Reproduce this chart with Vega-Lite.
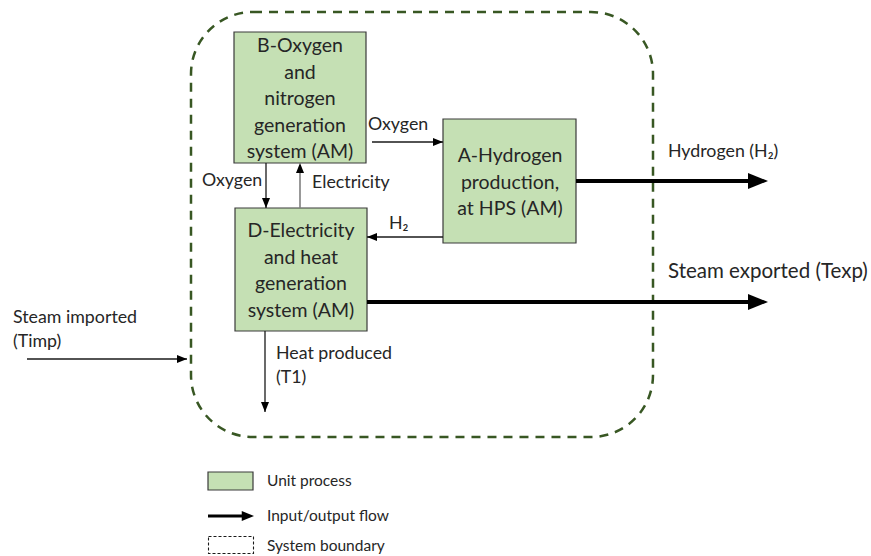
{
  "$schema": "https://vega.github.io/schema/vega-lite/v6.json",
  "width": 871,
  "height": 556,
  "autosize": {"type": "fit", "contains": "padding"},
  "padding": 0,
  "background": "white",
  "config": {"view": {"stroke": null}},
  "datasets": {
    "boundary": [{"x": 191, "x2": 653, "y": 12, "y2": 437}],
    "boxes": [
      {"id": "B", "x": 234, "x2": 366, "y": 32, "y2": 163},
      {"id": "A", "x": 443, "x2": 576, "y": 119, "y2": 243},
      {"id": "D", "x": 235, "x2": 367, "y": 208, "y2": 331},
      {"id": "legend", "x": 208, "x2": 253, "y": 472, "y2": 490}
    ],
    "legendBoundary": [{"x": 208.5, "x2": 253.5, "y": 536.5, "y2": 553.5}],
    "lines": [
      {"flow": "internal", "x": 372, "x2": 443, "y": 142, "y2": 142},
      {"flow": "internal", "x": 266, "x2": 266, "y": 163, "y2": 208},
      {"flow": "internal", "x": 443, "x2": 367, "y": 237, "y2": 237},
      {"flow": "internal", "x": 27, "x2": 187, "y": 359, "y2": 359},
      {"flow": "internal", "x": 265, "x2": 265, "y": 331, "y2": 412},
      {"flow": "electricity", "x": 300, "x2": 300, "y": 208, "y2": 165},
      {"flow": "output", "x": 576, "x2": 762, "y": 181, "y2": 181},
      {"flow": "output", "x": 367, "x2": 762, "y": 302, "y2": 302},
      {"flow": "legend", "x": 208, "x2": 248, "y": 516, "y2": 516}
    ],
    "heads": [
      {"flow": "internal", "x": 443, "y": 142, "dir": "right"},
      {"flow": "internal", "x": 266, "y": 208, "dir": "down"},
      {"flow": "internal", "x": 300, "y": 163, "dir": "up"},
      {"flow": "internal", "x": 367, "y": 237, "dir": "left"},
      {"flow": "internal", "x": 187, "y": 359, "dir": "right"},
      {"flow": "internal", "x": 265, "y": 412, "dir": "down"},
      {"flow": "output", "x": 768, "y": 181, "dir": "right"},
      {"flow": "output", "x": 768, "y": 302, "dir": "right"},
      {"flow": "legend", "x": 254, "y": 516, "dir": "right"}
    ],
    "boxText": [
      {"x": 300, "y": 46, "text": "B-Oxygen\nand\nnitrogen\ngeneration\nsystem (AM)"},
      {"x": 510, "y": 156, "text": "A-Hydrogen\nproduction,\nat HPS (AM)"},
      {"x": 301, "y": 231, "text": "D-Electricity\nand heat\ngeneration\nsystem (AM)"}
    ],
    "labels": [
      {"x": 368, "y": 125, "text": "Oxygen"},
      {"x": 202, "y": 181, "text": "Oxygen"},
      {"x": 312, "y": 183, "text": "Electricity"},
      {"x": 389, "y": 224, "text": "H₂"},
      {"x": 668, "y": 152, "text": "Hydrogen (H₂)"}
    ],
    "labels2": [
      {"x": 13, "y": 318, "text": "Steam imported\n(Timp)"},
      {"x": 276, "y": 354, "text": "Heat produced\n(T1)"}
    ],
    "bigLabels": [
      {"x": 668, "y": 272, "text": "Steam exported (Texp)"}
    ],
    "legendLabels": [
      {"x": 267, "y": 481, "text": "Unit process"},
      {"x": 267, "y": 516, "text": "Input/output flow"},
      {"x": 267, "y": 546, "text": "System boundary"}
    ]
  },
  "layer": [
    {
      "data": {"name": "boundary"},
      "mark": {"type": "rect", "fillOpacity": 0, "stroke": "#385723", "strokeWidth": 2.5, "strokeDash": [9, 7], "cornerRadius": 62},
      "encoding": {
        "x": {"field": "x", "type": "quantitative", "scale": {"domain": [0, 871], "nice": false, "zero": false}, "axis": null},
        "x2": {"field": "x2"},
        "y": {"field": "y", "type": "quantitative", "scale": {"domain": [0, 556], "nice": false, "zero": false, "reverse": true}, "axis": null},
        "y2": {"field": "y2"}
      }
    },
    {
      "data": {"name": "boxes"},
      "mark": {"type": "rect", "fill": "#C5E0B4", "stroke": "#3a3a3a", "strokeWidth": 1.2},
      "encoding": {
        "x": {"field": "x", "type": "quantitative"},
        "x2": {"field": "x2"},
        "y": {"field": "y", "type": "quantitative"},
        "y2": {"field": "y2"}
      }
    },
    {
      "data": {"name": "legendBoundary"},
      "mark": {"type": "rect", "fillOpacity": 0, "stroke": "#1a1a1a", "strokeWidth": 1.1, "strokeDash": [3, 2]},
      "encoding": {
        "x": {"field": "x", "type": "quantitative"},
        "x2": {"field": "x2"},
        "y": {"field": "y", "type": "quantitative"},
        "y2": {"field": "y2"}
      }
    },
    {
      "data": {"name": "lines"},
      "transform": [{"filter": "datum.flow == 'internal'"}],
      "mark": {"type": "rule", "color": "#1a1a1a", "strokeWidth": 1.3},
      "encoding": {
        "x": {"field": "x", "type": "quantitative"},
        "x2": {"field": "x2"},
        "y": {"field": "y", "type": "quantitative"},
        "y2": {"field": "y2"}
      }
    },
    {
      "data": {"name": "lines"},
      "transform": [{"filter": "datum.flow == 'electricity'"}],
      "mark": {"type": "rule", "color": "#7f7f7f", "strokeWidth": 1.6},
      "encoding": {
        "x": {"field": "x", "type": "quantitative"},
        "x2": {"field": "x2"},
        "y": {"field": "y", "type": "quantitative"},
        "y2": {"field": "y2"}
      }
    },
    {
      "data": {"name": "lines"},
      "transform": [{"filter": "datum.flow == 'output'"}],
      "mark": {"type": "rule", "color": "#000000", "strokeWidth": 4},
      "encoding": {
        "x": {"field": "x", "type": "quantitative"},
        "x2": {"field": "x2"},
        "y": {"field": "y", "type": "quantitative"},
        "y2": {"field": "y2"}
      }
    },
    {
      "data": {"name": "lines"},
      "transform": [{"filter": "datum.flow == 'legend'"}],
      "mark": {"type": "rule", "color": "#000000", "strokeWidth": 3.2},
      "encoding": {
        "x": {"field": "x", "type": "quantitative"},
        "x2": {"field": "x2"},
        "y": {"field": "y", "type": "quantitative"},
        "y2": {"field": "y2"}
      }
    },
    {
      "data": {"name": "heads"},
      "transform": [{"filter": "datum.flow == 'internal'"}],
      "mark": {"type": "point", "filled": true, "opacity": 1, "color": "#000000", "size": 100},
      "encoding": {
        "x": {"field": "x", "type": "quantitative"},
        "y": {"field": "y", "type": "quantitative"},
        "shape": {"field": "dir", "type": "nominal", "legend": null, "scale": {"domain": ["right", "left", "up", "down"], "range": ["M0,0L-2,-0.8L-2,0.8Z", "M0,0L2,-0.8L2,0.8Z", "M0,0L-0.8,2L0.8,2Z", "M0,0L-0.8,-2L0.8,-2Z"]}}
      }
    },
    {
      "data": {"name": "heads"},
      "transform": [{"filter": "datum.flow == 'output'"}],
      "mark": {"type": "point", "filled": true, "opacity": 1, "color": "#000000", "size": 400},
      "encoding": {
        "x": {"field": "x", "type": "quantitative"},
        "y": {"field": "y", "type": "quantitative"},
        "shape": {"field": "dir", "type": "nominal", "legend": null}
      }
    },
    {
      "data": {"name": "heads"},
      "transform": [{"filter": "datum.flow == 'legend'"}],
      "mark": {"type": "point", "filled": true, "opacity": 1, "color": "#000000", "size": 150},
      "encoding": {
        "x": {"field": "x", "type": "quantitative"},
        "y": {"field": "y", "type": "quantitative"},
        "shape": {"field": "dir", "type": "nominal", "legend": null}
      }
    },
    {
      "data": {"name": "boxText"},
      "mark": {"type": "text", "font": "Lato", "fontSize": 19.5, "lineHeight": 26.5, "lineBreak": "\n", "align": "center", "baseline": "middle", "color": "#262626"},
      "encoding": {
        "x": {"field": "x", "type": "quantitative"},
        "y": {"field": "y", "type": "quantitative"},
        "text": {"field": "text"}
      }
    },
    {
      "data": {"name": "labels"},
      "mark": {"type": "text", "font": "Lato", "fontSize": 17.8, "align": "left", "baseline": "middle", "color": "#262626"},
      "encoding": {
        "x": {"field": "x", "type": "quantitative"},
        "y": {"field": "y", "type": "quantitative"},
        "text": {"field": "text"}
      }
    },
    {
      "data": {"name": "labels2"},
      "mark": {"type": "text", "font": "Lato", "fontSize": 17.8, "lineHeight": 23.5, "lineBreak": "\n", "align": "left", "baseline": "middle", "color": "#262626"},
      "encoding": {
        "x": {"field": "x", "type": "quantitative"},
        "y": {"field": "y", "type": "quantitative"},
        "text": {"field": "text"}
      }
    },
    {
      "data": {"name": "bigLabels"},
      "mark": {"type": "text", "font": "Lato", "fontSize": 20.5, "align": "left", "baseline": "middle", "color": "#262626"},
      "encoding": {
        "x": {"field": "x", "type": "quantitative"},
        "y": {"field": "y", "type": "quantitative"},
        "text": {"field": "text"}
      }
    },
    {
      "data": {"name": "legendLabels"},
      "mark": {"type": "text", "font": "Lato", "fontSize": 15.5, "align": "left", "baseline": "middle", "color": "#262626"},
      "encoding": {
        "x": {"field": "x", "type": "quantitative"},
        "y": {"field": "y", "type": "quantitative"},
        "text": {"field": "text"}
      }
    }
  ]
}
